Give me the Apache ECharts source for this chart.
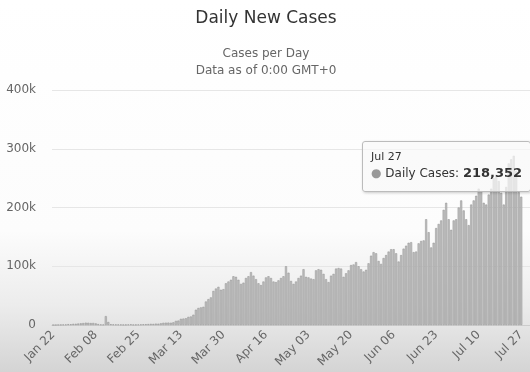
<!DOCTYPE html>
<html>
<head>
<meta charset="utf-8">
<script src="https://cdn.jsdelivr.net/npm/echarts@6/dist/echarts.min.js"></script>
<style>
html,body{margin:0;padding:0;background:#fff;}
#c{width:530px;height:372px;}
</style>
</head>
<body>
<div id="c"></div>
<script>
// Dates Jan 22 .. Jul 27 (2020)
var categories = [
'Jan 22','Jan 23','Jan 24','Jan 25','Jan 26','Jan 27','Jan 28','Jan 29','Jan 30','Jan 31',
'Feb 01','Feb 02','Feb 03','Feb 04','Feb 05','Feb 06','Feb 07','Feb 08','Feb 09','Feb 10',
'Feb 11','Feb 12','Feb 13','Feb 14','Feb 15','Feb 16','Feb 17','Feb 18','Feb 19','Feb 20',
'Feb 21','Feb 22','Feb 23','Feb 24','Feb 25','Feb 26','Feb 27','Feb 28','Feb 29',
'Mar 01','Mar 02','Mar 03','Mar 04','Mar 05','Mar 06','Mar 07','Mar 08','Mar 09','Mar 10',
'Mar 11','Mar 12','Mar 13','Mar 14','Mar 15','Mar 16','Mar 17','Mar 18','Mar 19','Mar 20',
'Mar 21','Mar 22','Mar 23','Mar 24','Mar 25','Mar 26','Mar 27','Mar 28','Mar 29','Mar 30','Mar 31',
'Apr 01','Apr 02','Apr 03','Apr 04','Apr 05','Apr 06','Apr 07','Apr 08','Apr 09','Apr 10',
'Apr 11','Apr 12','Apr 13','Apr 14','Apr 15','Apr 16','Apr 17','Apr 18','Apr 19','Apr 20',
'Apr 21','Apr 22','Apr 23','Apr 24','Apr 25','Apr 26','Apr 27','Apr 28','Apr 29','Apr 30',
'May 01','May 02','May 03','May 04','May 05','May 06','May 07','May 08','May 09','May 10',
'May 11','May 12','May 13','May 14','May 15','May 16','May 17','May 18','May 19','May 20',
'May 21','May 22','May 23','May 24','May 25','May 26','May 27','May 28','May 29','May 30','May 31',
'Jun 01','Jun 02','Jun 03','Jun 04','Jun 05','Jun 06','Jun 07','Jun 08','Jun 09','Jun 10',
'Jun 11','Jun 12','Jun 13','Jun 14','Jun 15','Jun 16','Jun 17','Jun 18','Jun 19','Jun 20',
'Jun 21','Jun 22','Jun 23','Jun 24','Jun 25','Jun 26','Jun 27','Jun 28','Jun 29','Jun 30',
'Jul 01','Jul 02','Jul 03','Jul 04','Jul 05','Jul 06','Jul 07','Jul 08','Jul 09','Jul 10',
'Jul 11','Jul 12','Jul 13','Jul 14','Jul 15','Jul 16','Jul 17','Jul 18','Jul 19','Jul 20',
'Jul 21','Jul 22','Jul 23','Jul 24','Jul 25','Jul 26','Jul 27'
];

// Daily new cases
var dailyCases = [
0,100,290,490,680,810,1400,1200,1900,2000,
2500,2800,3200,3900,3700,3200,3400,2700,1500,900,
700,15100,5100,1300,1000,900,800,700,500,600,
900,1100,500,600,800,1000,1200,1300,1600,
1900,1800,2300,2200,2800,3700,3900,4000,3800,4500,
7000,7500,10500,10900,11500,13800,14500,17500,26000,29000,
30000,31000,40000,44000,47000,58000,62000,65000,60000,61000,71000,
74000,77000,83000,82000,77000,70000,72000,80000,83000,90000,
84000,78000,71000,68000,74000,81000,83000,80000,74000,73000,
76000,80000,83000,100000,89000,75000,70000,74000,80000,84000,
95000,82000,81000,79000,78000,93000,95000,94000,87000,78000,
73000,84000,87000,96000,97000,96000,82000,88000,93000,102000,
103000,107000,100000,95000,91000,94000,105000,118000,124000,122000,109000,
104000,114000,119000,125000,129000,129000,122000,108000,119000,130000,
135000,140000,141000,124000,125000,139000,143000,144000,180000,158000,
132000,140000,165000,172000,178000,196000,208000,180000,162000,178000,
180000,200000,212000,195000,180000,170000,205000,212000,220000,232000,
228000,208000,205000,222000,232000,250000,255000,245000,225000,205000,
235000,275000,282000,288000,262000,226000,218352
];

var yTickLabels = ['0','100k','200k','300k','400k'];
var seriesName = 'Daily Cases';
var tipIndex = categories.length - 1;

var chart = echarts.init(document.getElementById('c'), null, {renderer:'canvas'});
var FONT = '"DejaVu Sans", "Lucida Grande", sans-serif';

chart.setOption({
  animation: false,
  backgroundColor: {
    type: 'linear', x: 0, y: 0, x2: 0, y2: 1,
    colorStops: [
      {offset: 0, color: '#ffffff'},
      {offset: 0.62, color: '#fcfcfc'},
      {offset: 0.82, color: '#ececec'},
      {offset: 1, color: '#d4d4d4'}
    ]
  },
  title: [
    {text: 'Daily New Cases', left: 261, top: 5, textAlign: 'center',
     textStyle: {fontFamily: FONT, fontSize: 17, fontWeight: 'normal', color: '#333333'}},
    {text: 'Cases per Day\nData as of 0:00 GMT+0', left: 261, top: 40, textAlign: 'center',
     textStyle: {fontFamily: FONT, fontSize: 12, fontWeight: 'normal', color: '#666666', lineHeight: 17}}
  ],
  grid: {left: 52, right: 0, top: 90, bottom: 47},
  xAxis: {
    type: 'category',
    data: categories,
    max: 190,
    axisLine: {lineStyle: {color: '#cccccc'}},
    axisTick: {show: false},
    axisLabel: {interval: 16, rotate: 45, margin: 8, color: '#666666', fontFamily: FONT, fontSize: 12}
  },
  yAxis: {
    type: 'value',
    min: 0, max: 400000, interval: 100000,
    axisLine: {show: false},
    axisTick: {show: false},
    splitLine: {lineStyle: {color: '#e6e6e6'}},
    axisLabel: {
      margin: 16, color: '#666666', fontFamily: FONT, fontSize: 12,
      formatter: function (v) { return yTickLabels[Math.round(v / 100000)]; }
    }
  },
  tooltip: {
    trigger: 'item',
    triggerOn: 'none',
    alwaysShowContent: true,
    transitionDuration: 0,
    position: [362, 141],
    backgroundColor: 'rgba(248,248,248,0.72)',
    borderColor: '#bbbbbb',
    borderWidth: 1,
    borderRadius: 3,
    padding: [7, 8, 9, 8],
    extraCssText: 'box-shadow:1px 1px 3px rgba(0,0,0,0.2);',
    formatter: function (p) {
      return '<div style="font-family:' + FONT.replace(/"/g, "'") + ';color:#333;">' +
        '<div style="font-size:11px;line-height:15px;">' + p.name + '</div>' +
        '<div style="font-size:12px;line-height:18px;white-space:nowrap;">' +
        '<span style="color:#999;">\u25CF</span> ' + p.seriesName + ': ' +
        '<b style="font-size:13px;">' + p.value.toLocaleString('en-US') + '</b></div></div>';
    }
  },
  series: [{
    name: seriesName,
    type: 'bar',
    data: dailyCases,
    barCategoryGap: '18%',
    itemStyle: {color: '#c0c0c0', borderColor: '#8e8e8e', borderWidth: 0.5},
    emphasis: {disabled: true}
  }]
});

chart.dispatchAction({type: 'showTip', seriesIndex: 0, dataIndex: tipIndex});
</script>
</body>
</html>
